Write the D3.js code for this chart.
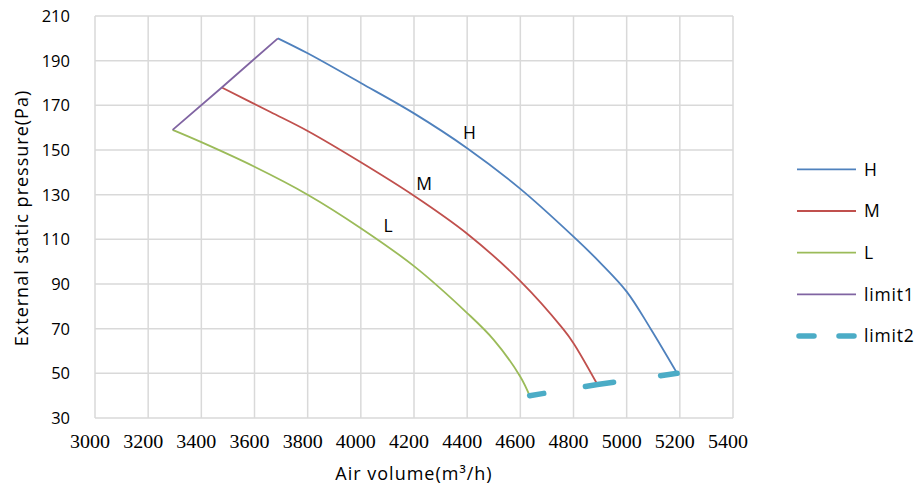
<!DOCTYPE html>
<html><head><meta charset="utf-8">
<script src="https://cdn.jsdelivr.net/npm/d3@7/dist/d3.min.js"></script>
<style>body{margin:0;background:#fff}svg{display:block}
.serif{font-family:"Liberation Serif","DejaVu Serif","Times New Roman",serif}
</style>
</head><body>
<svg id="c" width="919" height="488"></svg>
<script>
// ---- data ----
const xTicks = [3000,3200,3400,3600,3800,4000,4200,4400,4600,4800,5000,5200,5400];
const yTicks = [30,50,70,90,110,130,150,170,190,210];
const H_x = [3688,3800,4000,4200,4400,4600,4800,4900,5000,5090,5190];
const H_y = [200,193.3,180,166.4,150.8,132.6,111.2,99.6,86.6,70,50];
const M_x = [3477,3660,3800,4000,4200,4400,4600,4760,4800,4890];
const M_y = [178,167,158.5,144.5,129.5,112.5,91.3,70,63.5,45];
const L_x = [3292,3400,3600,3800,4000,4200,4400,4500,4600,4635];
const L_y = [159,153.5,142.5,130,115,98,77,65,48.5,40];
const limit1_x = [3292,3477,3688];
const limit1_y = [159,178,200];
const limit2_x = [4635,4890,5190];
const limit2_y = [40,45,50];
const seriesNames = ["H","M","L","limit1","limit2"];
const curveLabels = [{t:"H",x:4409,y:157.8},{t:"M",x:4238,y:134.8},{t:"L",x:4102,y:116}];

const colors = {H:"#4F81BD",M:"#C0504D",L:"#9BBB59",limit1:"#8064A2",limit2:"#4BACC6"};
const sans = "'Open Sans', 'DejaVu Sans', sans-serif";

const svg = d3.select("#c");
const x = d3.scaleLinear().domain([3000,5400]).range([95,733]);
const y = d3.scaleLinear().domain([30,210]).range([418,16]);

// grid
const g = svg.append("g");
g.selectAll(".vx").data(xTicks).join("line")
  .attr("x1",d=>x(d)).attr("x2",d=>x(d)).attr("y1",y(210)).attr("y2",y(30))
  .attr("stroke","#d9d9d9").attr("stroke-width",1.5);
g.selectAll(".hy").data(yTicks).join("line")
  .attr("y1",d=>y(d)).attr("y2",d=>y(d)).attr("x1",x(3000)).attr("x2",x(5400))
  .attr("stroke","#d9d9d9").attr("stroke-width",1.5);

// tick labels
svg.append("g").selectAll("text").data(yTicks).join("text")
  .attr("x",70).attr("y",d=>y(d)).attr("dy","0.36em").attr("text-anchor","end")
  .style("font-family",sans).attr("font-size",16.5).attr("fill","#000")
  .text(d=>d);
svg.append("g").selectAll("text").data(xTicks).join("text")
  .attr("class","serif")
  .attr("x",d=>x(d)-5).attr("y",448).attr("text-anchor","middle")
  .attr("font-size",19).attr("fill","#000")
  .attr("textLength",40).attr("lengthAdjust","spacingAndGlyphs")
  .text(d=>d);

// axis titles
svg.append("text").attr("x",414).attr("y",480).attr("text-anchor","middle")
  .style("font-family",sans).attr("font-size",18).attr("letter-spacing",1).text("Air volume(m³/h)");
svg.append("text").attr("transform","translate(28,218) rotate(-90)").attr("text-anchor","middle")
  .style("font-family",sans).attr("font-size",18).attr("letter-spacing",1).text("External static pressure(Pa)");

// series
const mk = (xs,ys)=>xs.map((v,i)=>[v,ys[i]]);
const data = {H:mk(H_x,H_y),M:mk(M_x,M_y),L:mk(L_x,L_y),limit1:mk(limit1_x,limit1_y),limit2:mk(limit2_x,limit2_y)};
const smooth = d3.line().x(d=>x(d[0])).y(d=>y(d[1])).curve(d3.curveCatmullRom.alpha(0.5));
const straight = d3.line().x(d=>x(d[0])).y(d=>y(d[1]));
["H","M","L"].forEach(k=>{
  svg.append("path").attr("d",smooth(data[k])).attr("fill","none")
    .attr("stroke",colors[k]).attr("stroke-width",1.8);
});
svg.append("path").attr("d",straight(data.limit1)).attr("fill","none")
  .attr("stroke",colors.limit1).attr("stroke-width",1.8);
svg.append("path").attr("d",straight(data.limit2)).attr("fill","none")
  .attr("stroke",colors.limit2).attr("stroke-width",5.5).attr("stroke-linecap","round")
  .attr("stroke-dasharray","14.3,42.2,28.5,47.5,40");

// curve labels
svg.append("g").selectAll("text").data(curveLabels).join("text")
  .attr("x",d=>x(d.x)).attr("y",d=>y(d.y)).attr("dy","0.36em").attr("text-anchor","middle")
  .style("font-family",sans).attr("font-size",17.5).text(d=>d.t);

// legend
const lg = svg.append("g");
seriesNames.forEach((k,i)=>{
  const yy = 169.3 + i*41.7;
  if(k==="limit2"){
    lg.append("line").attr("x1",799).attr("x2",855).attr("y1",yy).attr("y2",yy)
      .attr("stroke",colors[k]).attr("stroke-width",5.5).attr("stroke-linecap","round")
      .attr("stroke-dasharray","15,25");
  } else {
    lg.append("line").attr("x1",797).attr("x2",856).attr("y1",yy).attr("y2",yy)
      .attr("stroke",colors[k]).attr("stroke-width",1.8);
  }
  lg.append("text").attr("x",864).attr("y",yy).attr("dy","0.36em")
    .style("font-family",sans).attr("font-size",17.5).attr("letter-spacing",0.8).text(k);
});
</script>
</body></html>
